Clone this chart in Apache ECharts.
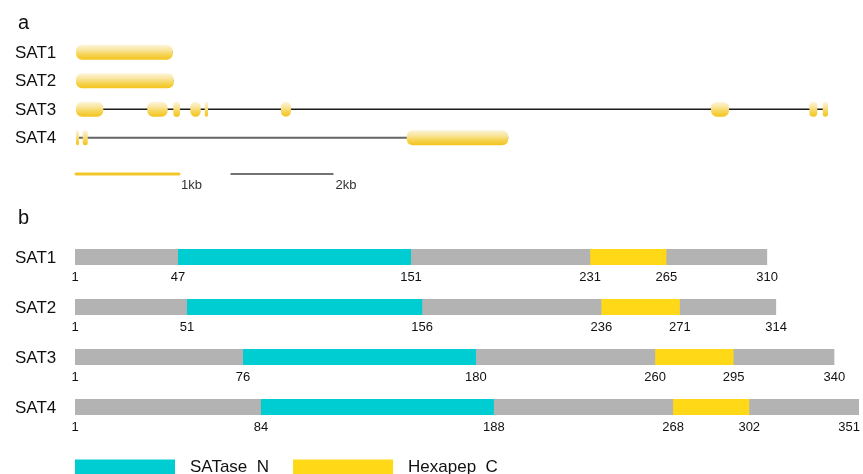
<!DOCTYPE html>
<html>
<head>
<meta charset="utf-8">
<script src="https://cdn.jsdelivr.net/npm/echarts@6/dist/echarts.min.js"></script>
<style>
  html, body { margin: 0; padding: 0; background: #fff; }
  #chart { width: 863px; height: 474px; }
</style>
</head>
<body>
<div id="chart"></div>
<script>
// panel a: gene structures, bp from the start codon
var genes = ['SAT1', 'SAT2', 'SAT3', 'SAT4'];
var geneSpan = [[0, 940], [0, 950], [0, 7301], [0, 4197]];
var exons = [
  [[0, 940]],
  [[0, 950]],
  [[0, 265], [692, 890], [945, 1010], [1110, 1211], [1250, 1282], [1990, 2087], [6165, 6340], [7120, 7197], [7250, 7301]],
  [[0, 29], [65, 114], [3211, 4197]]
];
var scaleBars = [[0, 1000, '1kb'], [1500, 2500, '2kb']];

// panel b: protein domains, aa
var proteinLen = [310, 314, 340, 351];
var satN = [[47, 151], [51, 156], [76, 180], [84, 188]];
var hexC = [[231, 265], [236, 271], [260, 295], [268, 302]];

var FONT = 'Liberation Sans, Arial, Helvetica, sans-serif';
var SCALE_ROW = 4.27;
var intronColor = ['#222', '#222', '#1a1a1a', '#666'];
var intronWidth = [1.5, 1.5, 1.5, 2];

var exonFill = new echarts.graphic.LinearGradient(0, 0, 0, 1, [
  { offset: 0, color: '#fcf5dc' },
  { offset: 0.35, color: '#f9e59e' },
  { offset: 0.65, color: '#f6d454' },
  { offset: 1, color: '#f3c41c' }
]);

// build data rows
var exonData = [];
exons.forEach(function (list, i) {
  list.forEach(function (e) { exonData.push([e[0], e[1], i]); });
});
var spanData = geneSpan.map(function (s, i) { return [s[0], s[1], i]; });
var scaleData = scaleBars.map(function (s, i) { return [s[0], s[1], SCALE_ROW, s[2], i]; });
var protData = proteinLen.map(function (l, i) { return [1, l, i]; });
var satNData = satN.map(function (d, i) { return [d[0], d[1], i]; });
var hexCData = hexC.map(function (d, i) { return [d[0], d[1], i]; });
var tickData = [];
proteinLen.forEach(function (l, i) {
  [1, satN[i][0], satN[i][1], hexC[i][0], hexC[i][1], l].forEach(function (v) {
    tickData.push([v, i]);
  });
});

var chart = echarts.init(document.getElementById('chart'));
chart.setOption({
  animation: false,
  textStyle: { fontFamily: FONT },
  title: [
    { text: 'a', left: 13, top: 8, textStyle: { fontSize: 20, fontWeight: 'normal', color: '#111', fontFamily: FONT } },
    { text: 'b', left: 13, top: 203, textStyle: { fontSize: 20, fontWeight: 'normal', color: '#111', fontFamily: FONT } }
  ],
  legend: {
    data: ['SATase_N', 'Hexapep_C'],
    left: 75,
    top: 459,
    padding: 0,
    icon: 'rect',
    itemWidth: 100,
    itemHeight: 16,
    itemGap: 24,
    selectedMode: false,
    textStyle: { fontSize: 17, color: '#111', fontFamily: FONT, padding: [0, 0, 0, 10] }
  },
  grid: [
    { left: 76, top: 38, width: 772.5, height: 142.5 },
    { left: 75, top: 232, width: 784, height: 200 }
  ],
  xAxis: [
    { type: 'value', gridIndex: 0, min: 0, max: 7500, show: false },
    { type: 'value', gridIndex: 1, min: 1, max: 351, show: false }
  ],
  yAxis: [
    { type: 'value', gridIndex: 0, min: -0.5, max: 4.5, inverse: true, show: false },
    { type: 'value', gridIndex: 1, min: -0.5, max: 3.5, inverse: true, show: false }
  ],
  series: [
    {
      // intron lines + gene names
      type: 'custom', xAxisIndex: 0, yAxisIndex: 0, silent: true,
      data: spanData,
      renderItem: function (params, api) {
        var a = api.coord([api.value(0), api.value(2)]);
        var b = api.coord([api.value(1), api.value(2)]);
        var i = params.dataIndex;
        return {
          type: 'group',
          children: [
            { type: 'line', shape: { x1: a[0], y1: a[1], x2: b[0], y2: b[1] },
              style: { stroke: intronColor[i], lineWidth: intronWidth[i] } },
            { type: 'text', style: { x: 15, y: a[1] + 1, text: genes[i], fill: '#111',
              font: '17px ' + FONT, verticalAlign: 'middle' } }
          ]
        };
      }
    },
    {
      type: 'custom', xAxisIndex: 0, yAxisIndex: 0, silent: true,
      data: exonData,
      renderItem: function (params, api) {
        var a = api.coord([api.value(0), api.value(2)]);
        var b = api.coord([api.value(1), api.value(2)]);
        var h = 15;
        return { type: 'rect', shape: { x: a[0], y: a[1] - h / 2, width: b[0] - a[0], height: h, r: 6 },
          style: { fill: exonFill } };
      }
    },
    {
      // scale bars
      type: 'custom', xAxisIndex: 0, yAxisIndex: 0, silent: true,
      data: scaleData,
      renderItem: function (params, api) {
        var a = api.coord([api.value(0), api.value(2)]);
        var b = api.coord([api.value(1), api.value(2)]);
        var first = api.value(4) === 0;
        return {
          type: 'group',
          children: [
            { type: 'line', shape: { x1: a[0], y1: a[1], x2: b[0], y2: b[1] },
              style: { stroke: first ? '#f3c62a' : '#444', lineWidth: first ? 3 : 1.5, lineCap: first ? 'round' : 'butt' } },
            { type: 'text', style: { x: b[0] + 2, y: a[1] + 11, text: scaleBars[params.dataIndex][2],
              fill: '#333', font: '13px ' + FONT, verticalAlign: 'middle' } }
          ]
        };
      }
    },
    {
      // full protein (grey) + gene names
      type: 'custom', xAxisIndex: 1, yAxisIndex: 1, silent: true,
      data: protData,
      renderItem: function (params, api) {
        var a = api.coord([api.value(0), api.value(2)]);
        var b = api.coord([api.value(1), api.value(2)]);
        return {
          type: 'group',
          children: [
            { type: 'rect', shape: { x: a[0], y: a[1] - 8, width: b[0] - a[0], height: 16 },
              style: { fill: '#b3b3b3' } },
            { type: 'text', style: { x: 15, y: a[1] + 1, text: genes[params.dataIndex], fill: '#111',
              font: '17px ' + FONT, verticalAlign: 'middle' } }
          ]
        };
      }
    },
    {
      name: 'SATase_N', type: 'custom', xAxisIndex: 1, yAxisIndex: 1, silent: true,
      itemStyle: { color: '#00cdd1' },
      data: satNData,
      renderItem: function (params, api) {
        var a = api.coord([api.value(0), api.value(2)]);
        var b = api.coord([api.value(1), api.value(2)]);
        return { type: 'rect', shape: { x: a[0], y: a[1] - 8, width: b[0] - a[0], height: 16 },
          style: { fill: api.visual('color') } };
      }
    },
    {
      name: 'Hexapep_C', type: 'custom', xAxisIndex: 1, yAxisIndex: 1, silent: true,
      itemStyle: { color: '#ffd817' },
      data: hexCData,
      renderItem: function (params, api) {
        var a = api.coord([api.value(0), api.value(2)]);
        var b = api.coord([api.value(1), api.value(2)]);
        return { type: 'rect', shape: { x: a[0], y: a[1] - 8, width: b[0] - a[0], height: 16 },
          style: { fill: api.visual('color') } };
      }
    },
    {
      // position labels under the bars
      type: 'custom', xAxisIndex: 1, yAxisIndex: 1, silent: true,
      data: tickData,
      renderItem: function (params, api) {
        var p = api.coord([api.value(0), api.value(1)]);
        var right = p[0] > 850;
        return { type: 'text', style: { x: right ? p[0] + 1 : p[0], y: p[1] + 20, text: String(api.value(0)),
          fill: '#111', font: '13px ' + FONT, align: right ? 'right' : 'center', verticalAlign: 'middle' } };
      }
    }
  ]
});
</script>
</body>
</html>
